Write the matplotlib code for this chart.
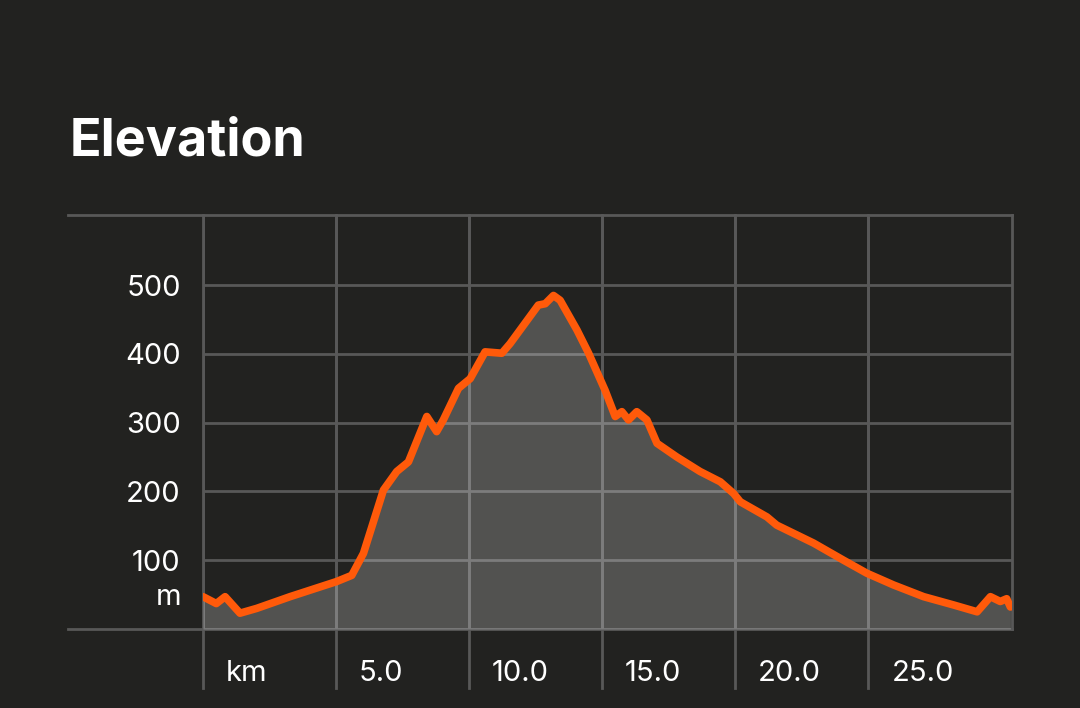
import matplotlib.pyplot as plt
import matplotlib.transforms as mtransforms

# distance (km) and elevation (m)
km = [0, 0.5, 0.83, 1.39, 2.02, 3.27, 5.02, 5.59, 6.03, 6.78, 7.28, 7.72,
      8.41, 8.78, 9.03, 9.60, 10.04, 10.6, 11.23, 11.54, 12.6, 12.86, 13.17,
      13.42, 14.05, 14.49, 15.11, 15.49, 15.74, 15.99, 16.3, 16.68, 17.06,
      17.81, 18.68, 19.44, 19.94, 20.19, 21.19, 21.56, 22.94, 24.07, 24.95,
      25.95, 27.08, 28.2, 29.09, 29.59, 29.96, 30.2, 30.34]
elev = [47, 37, 47, 23, 30, 47, 69, 78, 110, 202, 229, 243,
        309, 287, 304, 350, 364, 403, 401, 415, 471, 473, 485,
        478, 435, 401, 347, 309, 316, 304, 316, 304, 270,
        250, 229, 214, 197, 185, 163, 151, 125, 100, 81,
        64, 47, 35, 25, 47, 40, 44, 32]

x_ticks = [0, 5, 10, 15, 20, 25]
x_labels = ['km', '5.0', '10.0', '15.0', '20.0', '25.0']
y_ticks = [100, 200, 300, 400, 500]
y_labels = ['100', '200', '300', '400', '500']

bg = '#222220'
grid = '#585858'
orange = '#ff5a0a'

plt.rcParams['font.family'] = ['Inter', 'DejaVu Sans']

fig = plt.figure(figsize=(10.8, 7.08), dpi=100, facecolor=bg)
ax = fig.add_axes([203/1080, 1-629/708, 809/1080, 414/708])
ax.set_facecolor(bg)
ax.set_xlim(0, 30.4)
ax.set_ylim(0, 602)

for s in ax.spines.values():
    s.set_visible(False)

ax.set_xticks(x_ticks)
ax.set_xticklabels(x_labels)
ax.set_yticks(y_ticks)
ax.set_yticklabels(y_labels)
ax.tick_params(length=0, colors='white', labelsize=21)
ax.tick_params(axis='y', pad=16)
ax.tick_params(axis='x', pad=22)
off = mtransforms.ScaledTranslation(23/100, 0, fig.dpi_scale_trans)
for lab in ax.get_xticklabels():
    lab.set_ha('left')
    lab.set_transform(lab.get_transform() + off)

ax.grid(True, color=grid, lw=2, zorder=0)
ax.set_axisbelow(True)

# frame lines, extending past the plot like in the app
ax.plot([-135/809, 1], [1, 1], transform=ax.transAxes, clip_on=False,
        color=grid, lw=2, zorder=1)
ax.plot([-135/809, 1], [0, 0], transform=ax.transAxes, clip_on=False,
        color=grid, lw=2, zorder=1)
ax.plot([1, 1], [0, 1], transform=ax.transAxes, clip_on=False,
        color=grid, lw=2, zorder=1)
trans = mtransforms.blended_transform_factory(ax.transData, ax.transAxes)
for t in x_ticks:
    ax.plot([t, t], [-59/414, 1], transform=trans, clip_on=False,
            color=grid, lw=2, zorder=1)

ax.fill_between(km, elev, 0, color='white', alpha=0.22, lw=0, zorder=2)
ax.plot(km, elev, color=orange, lw=5.5, solid_joinstyle='round',
        solid_capstyle='round', zorder=3)

ytrans = mtransforms.blended_transform_factory(ax.transAxes, ax.transData)
ax.text(-22/809, 46, 'm', transform=ytrans, ha='right', va='center',
        color='white', fontsize=21)

fig.text(70/1080, 1-155/708, 'Elevation', color='white', fontsize=37.5,
         fontweight='bold', ha='left', va='baseline')

fig.savefig('out.png', dpi=100, facecolor=bg)
